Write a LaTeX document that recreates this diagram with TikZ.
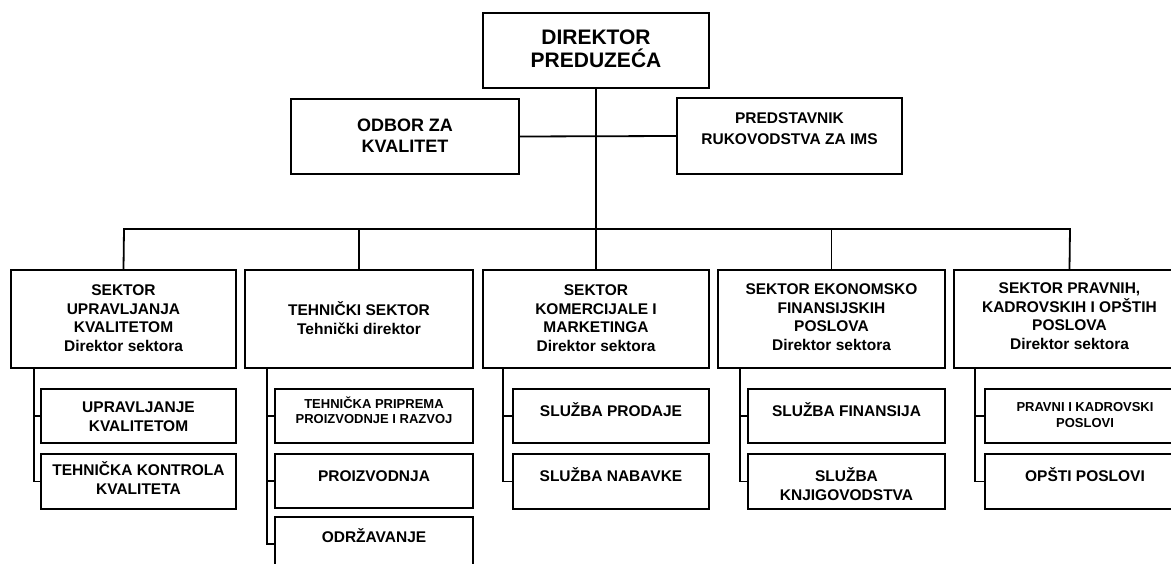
\documentclass[tikz,border=0pt]{standalone}
\usepackage{fontspec}
\setmainfont{Liberation Sans}
\begin{document}
\begin{tikzpicture}[x=1pt,y=-1pt,
  box/.style={draw, line width=2pt, inner sep=0pt},
  conn/.style={draw, line width=1.8pt},
  txt/.style={align=center, inner sep=0pt, font=\fontsize{15.5}{18.6}\selectfont\bfseries},
  smalltxt/.style={align=center, inner sep=0pt, font=\fontsize{13}{15.2}\selectfont\bfseries},
]
\useasboundingbox (0,0) rectangle (1171,564);
\fill[white] (0,0) rectangle (1171,564);
\clip (0,0) rectangle (1171,564);

% top level
\node[box, minimum width=226pt, minimum height=75pt] (dir) at (596,50.5) {};
\node[txt, font=\fontsize{21}{23.5}\selectfont\bfseries] (dirt) at (596,49) {DIREKTOR\\PREDUZEĆA};

\node[box, minimum width=228pt, minimum height=75pt] (odbor) at (405,136.5) {};
\node[txt, font=\fontsize{18}{21}\selectfont\bfseries] (odbort) at (405,135.5) {ODBOR ZA\\KVALITET};

\node[box, minimum width=225pt, minimum height=76pt] (pred) at (789.5,136) {};
\node[txt, font=\fontsize{15.5}{21}\selectfont\bfseries] (predt) at (789.5,129) {PREDSTAVNIK\\RUKOVODSTVA ZA IMS};

% sectors
\node[box, minimum width=225pt, minimum height=98pt] (s1) at (123.5,319) {};
\node[box, minimum width=228pt, minimum height=98pt] (s2) at (359,319) {};
\node[box, minimum width=226pt, minimum height=98pt] (s3) at (596,319) {};
\node[box, minimum width=227pt, minimum height=98pt] (s4) at (831.5,319) {};
\node[box, minimum width=231pt, minimum height=98pt] (s5) at (1069.5,319) {};

\node[txt] (s1t) at (123.5,318) {SEKTOR\\UPRAVLJANJA\\KVALITETOM\\Direktor sektora};
\node[txt] (s2t) at (359,318) {TEHNIČKI SEKTOR\\Tehnički direktor};
\node[txt] (s3t) at (596,318) {SEKTOR\\KOMERCIJALE I\\MARKETINGA\\Direktor sektora};
\node[txt] (s4t) at (831.5,317) {SEKTOR EKONOMSKO\\FINANSIJSKIH\\POSLOVA\\Direktor sektora};
\node[txt] (s5t) at (1069.5,316) {SEKTOR PRAVNIH,\\KADROVSKIH I OPŠTIH\\POSLOVA\\Direktor sektora};

% children
\node[box, minimum width=195pt, minimum height=54pt] (c11) at (138.5,416) {};
\node[box, minimum width=195pt, minimum height=55pt] (c12) at (138.5,481.5) {};
\node[box, minimum width=198pt, minimum height=54pt] (c21) at (374,416) {};
\node[box, minimum width=198pt, minimum height=54pt] (c22) at (374,481) {};
\node[box, minimum width=198pt, minimum height=54pt] (c23) at (374,544) {};
\node[box, minimum width=196pt, minimum height=54pt] (c31) at (611,416) {};
\node[box, minimum width=196pt, minimum height=55pt] (c32) at (611,481.5) {};
\node[box, minimum width=197pt, minimum height=54pt] (c41) at (846.5,416) {};
\node[box, minimum width=197pt, minimum height=55pt] (c42) at (846.5,481.5) {};
\node[box, minimum width=200pt, minimum height=54pt] (c51) at (1085,416) {};
\node[box, minimum width=200pt, minimum height=55pt] (c52) at (1085,481.5) {};

\node[txt] (c11t) at (138.5,417) {UPRAVLJANJE\\KVALITETOM};
\node[txt] (c12t) at (138.5,478) {TEHNIČKA KONTROLA\\KVALITETA};
\node[smalltxt] (c21t) at (374,410) {TEHNIČKA PRIPREMA\\PROIZVODNJE I RAZVOJ};
\node[txt] (c22t) at (374,476) {PROIZVODNJA};
\node[txt] (c23t) at (374,536) {ODRŽAVANJE};
\node[txt] (c31t) at (611,410) {SLUŽBA PRODAJE};
\node[txt] (c32t) at (611,475) {SLUŽBA NABAVKE};
\node[txt] (c41t) at (846.5,410) {SLUŽBA FINANSIJA};
\node[txt] (c42t) at (846.5,484) {SLUŽBA\\KNJIGOVODSTVA};
\node[smalltxt] (c51t) at (1085,415) {PRAVNI I KADROVSKI\\POSLOVI};
\node[txt] (c52t) at (1085,475) {OPŠTI POSLOVI};

% connectors top
\draw[conn] (dir.south) -- (s3.north);
\draw[conn] (odbor.east) -- (pred.west);
\coordinate (busL) at (124,229);
\coordinate (busR) at (1070,229);
\draw[conn] (s1.north) -- (busL) -- (busR) -- (s5.north);
\draw[conn] (s2.north) -- (s2.north |- busL);
\draw[conn] (s4.north) -- (s4.north |- busL);

% spines
\coordinate (sp1) at (34,368);
\coordinate (sp2) at (267,368);
\coordinate (sp3) at (503,368);
\coordinate (sp4) at (740,368);
\coordinate (sp5) at (975,368);
\draw[conn] (sp1) |- (c12.west);
\draw[conn] (sp1 |- c11.west) -- (c11.west);
\draw[conn] (sp2) |- (c23.west);
\draw[conn] (sp2 |- c21.west) -- (c21.west);
\draw[conn] (sp2 |- c22.west) -- (c22.west);
\draw[conn] (sp3) |- (c32.west);
\draw[conn] (sp3 |- c31.west) -- (c31.west);
\draw[conn] (sp4) |- (c42.west);
\draw[conn] (sp4 |- c41.west) -- (c41.west);
\draw[conn] (sp5) |- (c52.west);
\draw[conn] (sp5 |- c51.west) -- (c51.west);
\end{tikzpicture}
\end{document}
